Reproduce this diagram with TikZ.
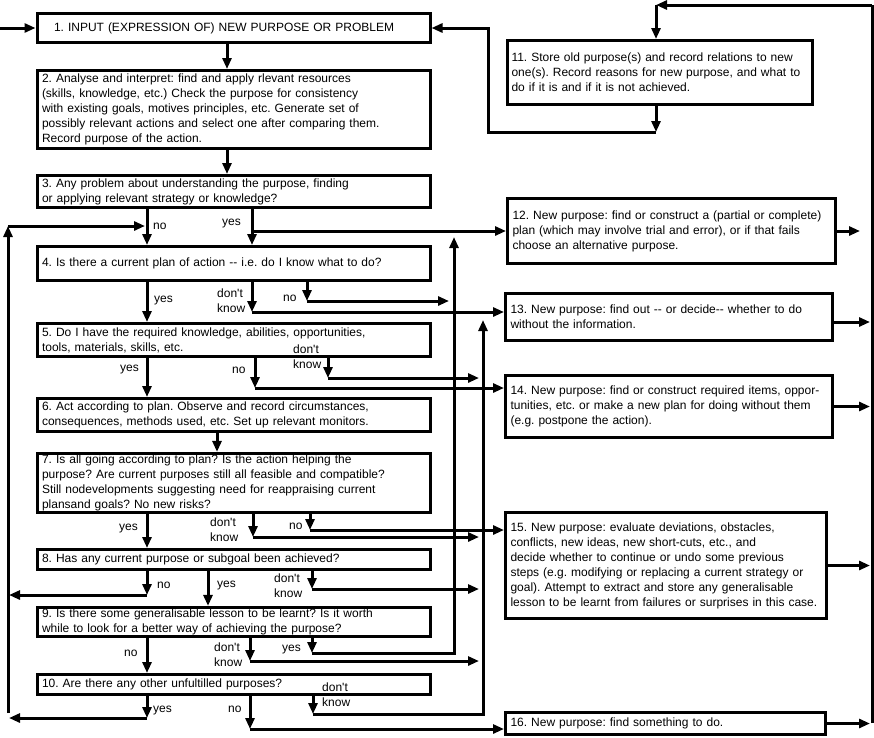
\documentclass[tikz,border=0pt]{standalone}
\usepackage{fontspec}
\setmainfont{Liberation Sans}
\usetikzlibrary{arrows.meta}
\frenchspacing
\tikzset{
  box/.style={draw,line width=3pt,inner xsep=5pt,inner ysep=1.5pt,align=left,
    font=\fontsize{12}{15}\selectfont},
  lab/.style={inner sep=0pt,anchor=west,align=left,font=\fontsize{12}{15}\selectfont},
  arr/.style={line width=3pt,-{Triangle[length=11pt,width=9pt]}},
  wire/.style={line width=3pt},
}
\newcommand{\dontknow}{don\textquotesingle t\\know}

\begin{document}
\begin{tikzpicture}[x=1pt,y=-1pt]
\useasboundingbox (0,0) rectangle (874,737);
% main column
\node[box,inner xsep=17pt,minimum width=393pt,minimum height=29pt,text width=359pt] (b1) at (233.5,28) {1. INPUT (EXPRESSION OF) NEW PURPOSE OR PROBLEM};
\node[box,minimum width=393pt,minimum height=78pt,text width=383pt] (b2) at (233.5,109.5) {2. Analyse and interpret: find and apply rlevant resources\\(skills, knowledge, etc.) Check the purpose for consistency\\with existing goals, motives principles, etc. Generate set of\\possibly relevant actions and select one after comparing them.\\Record purpose of the action.};
\node[box,minimum width=393pt,minimum height=32pt,text width=383pt] (b3) at (233.5,191.5) {3. Any problem about understanding the purpose, finding\\or applying relevant strategy or knowledge?};
\node[box,minimum width=393pt,minimum height=34pt,text width=383pt] (b4) at (233.5,263.5) {4. Is there a current plan of action -{}- i.e. do I know what to do?};
\node[box,minimum width=393pt,minimum height=33pt,text width=383pt] (b5) at (233.5,340) {5. Do I have the required knowledge, abilities, opportunities,\\tools, materials, skills, etc.};
\node[box,minimum width=393pt,minimum height=33pt,text width=383pt] (b6) at (233.5,415) {6. Act according to plan. Observe and record circumstances,\\consequences, methods used, etc. Set up relevant monitors.};
\node[box,minimum width=393pt,minimum height=57pt,text width=383pt] (b7) at (233.5,483) {7. Is all going according to plan? Is the action helping the\\purpose? Are current purposes still all feasible and compatible?\\Still nodevelopments suggesting need for reappraising current\\plansand goals? No new risks?};
\node[box,minimum width=393pt,minimum height=20pt,text width=383pt] (b8) at (233.5,559.5) {8. Has any current purpose or subgoal been achieved?};
\node[box,minimum width=393pt,minimum height=29pt,text width=383pt] (b9) at (233.5,622) {9. Is there some generalisable lesson to be learnt? Is it worth\\while to look for a better way of achieving the purpose?};
\node[box,minimum width=393pt,minimum height=20pt,text width=383pt] (b10) at (233.5,684.5) {10. Are there any other unfultilled purposes?};
% right column
\node[box,inner xsep=4pt,minimum width=305pt,minimum height=64pt,text width=297pt] (b11) at (660,72.5) {11. Store old purpose(s) and record relations to new\\one(s). Record reasons for new purpose, and what to\\do if it is and if it is not achieved.};
\node[box,minimum width=328pt,minimum height=65pt,text width=318pt] (b12) at (671.5,231) {12. New purpose: find or construct a (partial or complete)\\plan (which may involve trial and error), or if that fails\\choose an alternative purpose.};
\node[box,minimum width=327pt,minimum height=47pt,text width=317pt] (b13) at (669,317) {13. New purpose: find out -{}- or decide-{}- whether to do\\without the information.};
\node[box,minimum width=327pt,minimum height=62pt,text width=317pt] (b14) at (669,406.5) {14. New purpose: find or construct required items, oppor-\\tunities, etc. or make a new plan for doing without them\\(e.g. postpone the action).};
\node[box,minimum width=321pt,minimum height=106pt,text width=311pt] (b15) at (666,565.5) {15. New purpose: evaluate deviations, obstacles,\\conflicts, new ideas, new short-cuts, etc., and\\decide whether to continue or undo some previous\\steps (e.g. modifying or replacing a current strategy or\\goal). Attempt to extract and store any generalisable\\lesson to be learnt from failures or surprises in this case.};
\node[box,minimum width=320pt,minimum height=22pt,text width=310pt] (b16) at (665.5,723.5) {16. New purpose: find something to do.};

% buses and corners
\coordinate (in) at (0,28);
\coordinate (lbus) at (8,0);
\coordinate (lbustop) at (8,226);
\coordinate (lbusbot) at (8,713);
\coordinate (bus12) at (454,0);
\coordinate (bus12top) at (454,237);
\coordinate (bus13) at (483,0);
\coordinate (bus13top) at (483,320);
\coordinate (rbus) at (872,0);
\coordinate (rbustop) at (872,5);
\coordinate (rbusbot) at (872,723);
\coordinate (b11in) at (656,5);
\coordinate (b11out) at (656,132);
\coordinate (b1back) at (488,132);
\coordinate (c4dk) at (252,312);
\coordinate (c4no) at (307,301);
\coordinate (c5no) at (255,388);
\coordinate (c5dk) at (328,378);
\coordinate (c7dk) at (253,537);
\coordinate (c7no) at (310,530);
\coordinate (c8no) at (147,595);
\coordinate (c8dk) at (312,589);
\coordinate (c9dk) at (250,661);
\coordinate (c9yes) at (312,653);
\coordinate (c10yes) at (147,718);
\coordinate (c10no) at (250,729);
\coordinate (c10dk) at (313,714);

% input and loop back from 11
\draw[arr] (in) -- (b1.west);
\draw[wire] (rbusbot) -- (rbustop);
\draw[arr] (rbustop) -- (b11in);
\draw[arr] (b11in) -- (b11.north -| b11in);
\draw[arr] (b11.south -| b11out) -- (b11out);
\draw[arr] (b11out) -- (b1back) |- (b1.east);

% 1 to 3
\draw[arr] (b1.south -| 227,0) -- (b2.north -| 227,0);
\draw[arr] (b2.south -| 227,0) -- (b3.north -| 227,0);

% 3
\draw[arr] (b3.south -| 147,0) -- (b4.north -| 147,0);
\draw[arr] (b3.south -| 252,0) -- (b4.north -| 252,0);
\draw[arr] (b12.west -| 252,0) -- (b12.west);
\draw[arr] (lbusbot) -- (lbustop);
\draw[arr] (lbustop) -- (lbustop -| 145,0);
\node[lab] (l3no) at (153,226) {no};
\node[lab] (l3yes) at (222,224) {yes};

% 4
\draw[arr] (b4.south -| 147,0) -- (b5.north -| 147,0);
\draw[arr] (b4.south -| c4dk) -- (c4dk);
\draw[arr] (c4dk) -- (b13.west |- c4dk);
\draw[arr] (b4.south -| c4no) -- (c4no);
\draw[arr,shorten >=5pt] (c4no) -- (bus12 |- c4no);
\node[lab] (l4yes) at (154,301) {yes};
\node[lab] (l4dk) at (217,301) {\dontknow};
\node[lab] (l4no) at (283,298) {no};

% 5
\draw[arr] (b5.south -| 147,0) -- (b6.north -| 147,0);
\draw[arr] (b5.south -| c5no) -- (c5no);
\draw[arr] (c5no) -- (b14.west |- c5no);
\draw[arr] (b5.south -| c5dk) -- (c5dk);
\draw[arr,shorten >=4pt] (c5dk) -- (bus13 |- c5dk);
\node[lab] (l5yes) at (120,370) {yes};
\node[lab] (l5no) at (232,370) {no};
\node[lab] (l5dk) at (293,357) {\dontknow};

% 6
\draw[arr] (b6.south -| 217,0) -- (b7.north -| 217,0);

% 7
\draw[arr] (b7.south -| 147,0) -- (b8.north -| 147,0);
\draw[arr] (b7.south -| c7dk) -- (c7dk);
\draw[arr,shorten >=4pt] (c7dk) -- (bus13 |- c7dk);
\draw[arr] (b7.south -| c7no) -- (c7no);
\draw[arr] (c7no) -- (b15.west |- c7no);
\node[lab] (l7yes) at (119,529) {yes};
\node[lab] (l7dk) at (210,529.5) {\dontknow};
\node[lab] (l7no) at (289,526) {no};

% 8
\draw[arr] (b8.south -| c8no) -- (c8no);
\draw[arr,shorten >=1pt] (c8no) -- (lbus |- c8no);
\draw[arr] (b8.south -| 208,0) -- (b9.north -| 208,0);
\draw[arr] (b8.south -| c8dk) -- (c8dk);
\draw[arr,shorten >=4pt] (c8dk) -- (bus13 |- c8dk);
\node[lab] (l8no) at (157,585) {no};
\node[lab] (l8yes) at (217,586) {yes};
\node[lab] (l8dk) at (274,585.5) {\dontknow};

% 9
\draw[arr] (b9.south -| 147,0) -- (b10.north -| 147,0);
\draw[arr] (b9.south -| c9dk) -- (c9dk);
\draw[arr,shorten >=4pt] (c9dk) -- (bus13 |- c9dk);
\draw[arr] (b9.south -| c9yes) -- (c9yes);
\draw[arr] (c9yes) -| (bus12top);
\node[lab] (l9no) at (124,653) {no};
\node[lab] (l9dk) at (214,655) {\dontknow};
\node[lab] (l9yes) at (282,650) {yes};

% 10
\draw[arr] (b10.south -| c10yes) -- (c10yes);
\draw[arr,shorten >=1pt] (c10yes) -- (lbus |- c10yes);
\draw[arr] (b10.south -| c10no) -- (c10no);
\draw[arr] (c10no) -- (b16.west |- c10no);
\draw[arr] (b10.south -| c10dk) -- (c10dk);
\draw[arr] (c10dk) -| (bus13top);
\node[lab] (l10yes) at (153,711) {yes};
\node[lab] (l10no) at (228,709) {no};
\node[lab] (l10dk) at (322,695) {\dontknow};

% outputs to right bus
\draw[arr,shorten >=12pt] (b12.east) -- (b12.east -| rbus);
\draw[arr,shorten >=2pt] ([yshift=-5pt]b13.east) -- ([yshift=-5pt]b13.east -| rbus);
\draw[arr,shorten >=2pt] (b14.east) -- (b14.east -| rbus);
\draw[arr,shorten >=2pt] (b15.east) -- (b15.east -| rbus);
\draw[arr,shorten >=2pt] (b16.east) -- (b16.east -| rbus);
\end{tikzpicture}
\end{document}
